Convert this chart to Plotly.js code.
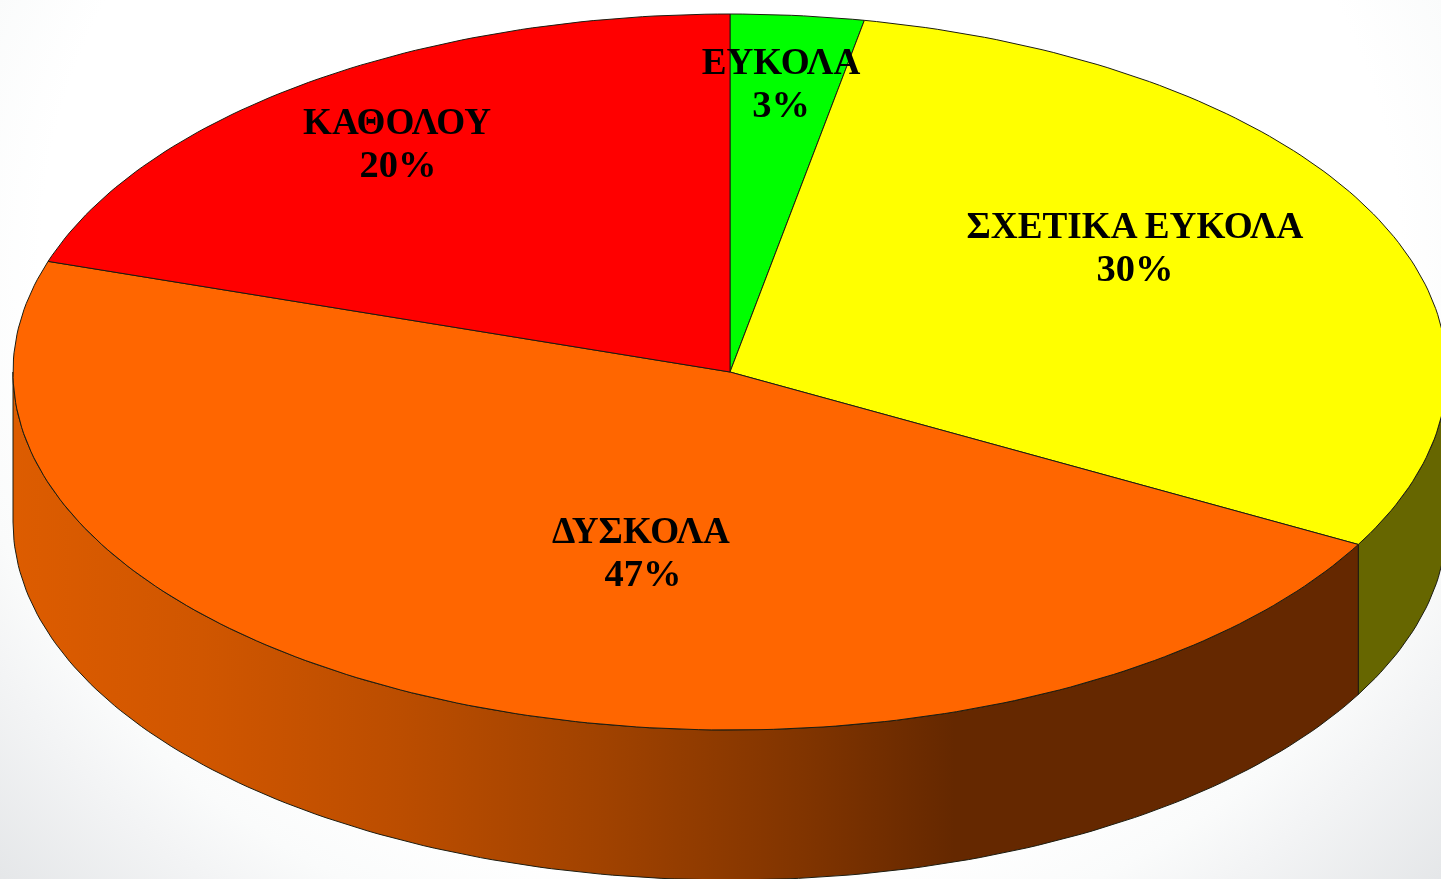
<!DOCTYPE html>
<html>
<head>
<meta charset="utf-8">
<script src="https://cdn.plot.ly/plotly-3.0.1.min.js"></script>
<style>
html,body{margin:0;padding:0;width:1441px;height:879px;overflow:hidden;
background:radial-gradient(ellipse 1000px 900px at 50% 30%,#ffffff 0%,#ffffff 68%,#fafbfb 78%,#f3f4f5 85%,#e4e6e8 100%);}
#chart{width:1441px;height:879px;filter:blur(0.45px);}
</style>
</head>
<body>
<div id="chart"></div>
<script>
// data, clockwise from 12 o'clock
const categories = ['ΕΥΚΟΛΑ', 'ΣΧΕΤΙΚΑ ΕΥΚΟΛΑ', 'ΔΥΣΚΟΛΑ', 'ΚΑΘΟΛΟΥ'];
const percents = [3, 30, 47, 20];
const topColors = ['#00ff00', '#ffff00', '#ff6600', '#ff0000'];
const nameX = [781, 1135, 641, 397];
const percentX = [781, 1135, 643, 398];
const nameY = [65, 229, 534, 125];
const percentY = [107, 271, 576, 167];

// drawing geometry of the tilted disc
const cx = 730, cy = 372, rx = 717, ry = 358, depth = 150;
const px = a => cx + rx * Math.sin(a * Math.PI / 180);
const py = a => cy - ry * Math.cos(a * Math.PI / 180);
const arc = (a0, a1) => {
  const out = [], n = Math.max(2, Math.ceil(Math.abs(a1 - a0)));
  for (let i = 0; i <= n; i++) out.push(a0 + (a1 - a0) * i / n);
  return out;
};
const total = percents.reduce((s, v) => s + v, 0);
const bounds = [0];
percents.forEach(v => bounds.push(bounds[bounds.length - 1] + v / total * 360));

const edge = {color: '#1c1c10', width: 1, shape: 'linear'};
const traces = [];

function wall(a0, a1, extra) {
  const top = arc(a0, a1), bot = arc(a1, a0);
  return Object.assign({
    type: 'scatter', mode: 'lines', fill: 'toself', hoverinfo: 'skip', line: edge,
    x: top.map(px).concat(bot.map(px)).concat([px(a0)]),
    y: top.map(py).concat(bot.map(a => py(a) + depth)).concat([py(a0)])
  }, extra);
}
// visible side walls
traces.push(wall(90, bounds[2], {fillcolor: '#666600'}));
traces.push(wall(bounds[2], 270, {
  fillcolor: '#a04200',
  fillgradient: {
    type: 'horizontal', start: 13, stop: 1358,
    colorscale: [[0, '#dd5c00'], [0.14, '#d05600'], [0.29, '#bb4d00'],
                 [0.44, '#a04200'], [0.59, '#803400'], [0.70, '#652800'], [1, '#652800']]
  }
}));
// top face slices
percents.forEach((v, i) => {
  const a = arc(bounds[i], bounds[i + 1]);
  traces.push({
    type: 'scatter', mode: 'lines', fill: 'toself', hoverinfo: 'skip',
    fillcolor: topColors[i], line: edge,
    x: [cx].concat(a.map(px)).concat([cx]),
    y: [cy].concat(a.map(py)).concat([cy])
  });
});
// labels
const family = '"Liberation Serif","Times New Roman",serif';
traces.push({type: 'scatter', mode: 'text', hoverinfo: 'skip', x: nameX, y: nameY,
  text: categories.map(c => '<b>' + c + '</b>'), textposition: 'middle center',
  textfont: {family: family, size: 37.2, color: '#000000'}});
traces.push({type: 'scatter', mode: 'text', hoverinfo: 'skip', x: percentX, y: percentY,
  text: percents.map(p => '<b>' + p + '%</b>'), textposition: 'middle center',
  textfont: {family: family, size: 38.5, color: '#000000'}});

const hidden = {visible: false, fixedrange: true, showgrid: false, zeroline: false};
Plotly.newPlot('chart', traces, {
  width: 1441, height: 879, showlegend: false, hovermode: false,
  margin: {l: 0, r: 0, t: 0, b: 0},
  paper_bgcolor: 'rgba(0,0,0,0)', plot_bgcolor: 'rgba(0,0,0,0)',
  xaxis: Object.assign({range: [0, 1441]}, hidden),
  yaxis: Object.assign({range: [879, 0]}, hidden)
}, {displayModeBar: false, staticPlot: true});
</script>
</body>
</html>
